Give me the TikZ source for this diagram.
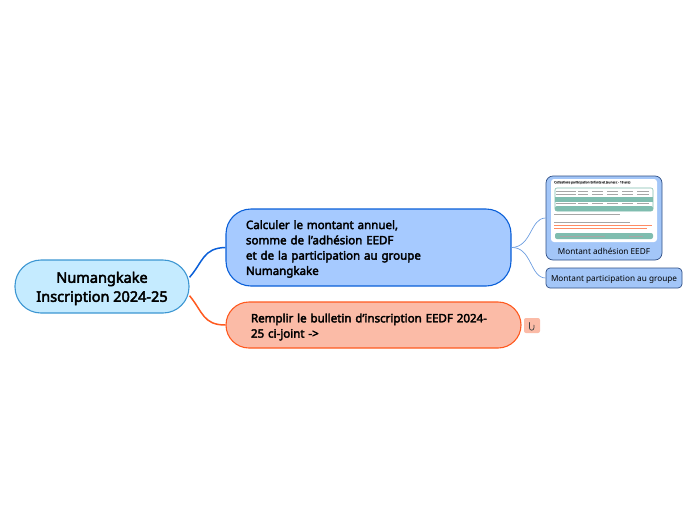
\documentclass[tikz,border=0pt]{standalone}
\usepackage{fontspec}
\setmainfont{Noto Sans}[Ligatures=ResetAll, BoldFont={Noto Sans}, BoldFeatures={FakeBold=3}]
\usepackage{xcolor}
\usetikzlibrary{calc, positioning}
\definecolor{rootfill}{HTML}{C5EBFF}
\definecolor{rootline}{HTML}{3C96D2}
\definecolor{bluefill}{HTML}{A6CAFF}
\definecolor{blueline}{HTML}{0A5FD8}
\definecolor{redfill}{HTML}{FBBBA7}
\definecolor{redline}{HTML}{FF5A20}
\definecolor{leaffill}{HTML}{A3C6F8}
\definecolor{leafline}{HTML}{2F4F86}
\definecolor{linkblue}{HTML}{6D9EE0}
\definecolor{teal}{HTML}{7FBDAF}
\tikzset{
    rootbox/.style={draw=rootline, fill=rootfill, line width=1.1pt, rounded corners=26pt, minimum width=174pt, minimum height=53pt, inner sep=0pt, align=center, font=\fontsize{14.5}{19}\selectfont\bfseries},
    mainbox/.style={line width=1.1pt, inner ysep=0pt, align=left, font=\fontsize{11.55}{15.3}\selectfont\bfseries},
    leafbox/.style={draw=leafline, fill=leaffill, line width=0.7pt, inner sep=0pt, font=\fontsize{8.2}{12}\selectfont},
    mainlink/.style={line width=1.5pt},
    leaflink/.style={draw=linkblue, line width=0.7pt},
    tinyline/.style={line width=0.7pt, black!35},
    redtext/.style={line width=0.8pt, redline!70}
}
\begin{document}
\begin{tikzpicture}[x=1pt, y=-1pt]
    \useasboundingbox (0, 0) rectangle (697, 520);
    \node[rootbox, text height=34pt] (root) at (102, 286.5) {Numangkake\\Inscription 2024-25};
    \node[mainbox, draw=blueline, fill=bluefill, rounded corners=25pt, inner xsep=20pt, text width=245pt, minimum height=77pt, text height=11.7pt] (adhesion) at (368.5, 247.5) {Calculer le montant annuel,\\somme de l'adhésion EEDF\\et de la participation au groupe\\Numangkake};
    \node[mainbox, draw=redline, fill=redfill, rounded corners=23pt, inner xsep=25pt, text width=245pt, minimum height=46pt, text height=12.7pt] (bulletin) at (373.5, 325) {Remplir le bulletin d'inscription EEDF 2024-\\25 ci-joint ->};
    \node[leafbox, rounded corners=7pt, minimum width=116pt, minimum height=84pt] (montant) at (604, 218) {};
    \node[leafbox, rounded corners=4pt, minimum width=136pt, minimum height=20pt, text height=8.5pt] (participation) at (614, 278) {Montant participation au groupe};
    \node[fill=redfill, rounded corners=2pt, minimum width=16pt, minimum height=15pt, inner sep=0pt] (joint) at (532, 325.5) {};
    \draw[line width=0.7pt, black!75, line cap=round] ($(joint)+(-2.5, -3)$) -- ++(0, 5.5) arc[start angle=180, end angle=360, radius=2.2pt] -- ++(0, -3);

    \draw[mainlink, draw=blueline] (root.6) .. controls (203, 262) and (203, 248) .. (adhesion.west);
    \draw[mainlink, draw=redline] (root.-6) .. controls (203, 312) and (203, 325) .. (bulletin.west);
    \draw[leaflink] (adhesion.east) .. controls (532, 247) and (530, 218) .. (montant.west);
    \draw[leaflink] (adhesion.east) .. controls (532, 247) and (530, 278) .. (participation.west);

    \fill[white, rounded corners=3pt] (551, 179) rectangle (657, 242);
    \node[anchor=west, inner sep=0pt, font=\fontsize{3.1}{4}\selectfont\bfseries, black!70] (titre) at (554, 182.5) {Cotisations participation Enfants et Jeunes ( - 18 ans)};
    \draw[teal, line width=0.6pt, rounded corners=2pt] (555, 188) rectangle (653, 211);
    \fill[teal] (555, 197) rectangle (653, 201.5);
    \fill[teal, rounded corners=2pt] (555, 206) rectangle (653, 211);
    \foreach \y in {191, 194.5, 203.5} {
        \foreach \x/\w in {556/20, 578/10, 592/11, 607/11, 622/11, 637/12} {
            \draw[tinyline, line width=0.5pt] (\x, \y) -- ++(\w, 0);
        }
    }
    \draw[tinyline, line width=0.4pt] (554, 214) -- (620, 214);
    \draw[tinyline] (554, 222) -- (630, 222);
    \draw[redtext] (554, 225.5) -- (652, 225.5);
    \draw[redtext] (554, 228.5) -- (647, 228.5);
    \fill[teal, rounded corners=2pt] (555, 233) rectangle (653, 239);
    \draw[tinyline, line width=0.5pt] (560, 236) -- (605, 236);
    \draw[tinyline, line width=0.5pt] (629, 236) -- (643, 236);
    \node[inner sep=0pt, font=\fontsize{8.2}{12}\selectfont] (legende) at (604, 251) {Montant adhésion EEDF};
\end{tikzpicture}
\end{document}
